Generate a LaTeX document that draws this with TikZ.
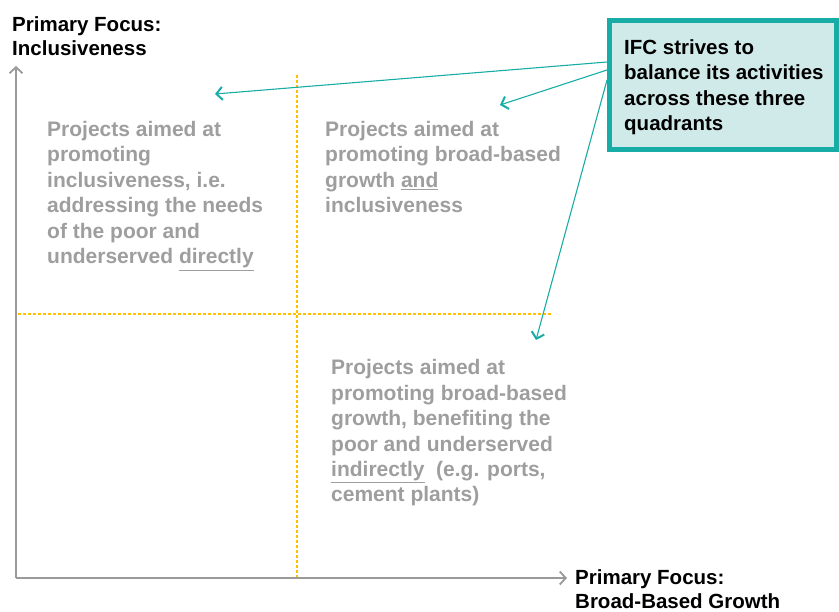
\documentclass[tikz,border=0pt]{standalone}
\usepackage{fontspec}
\setmainfont{Liberation Sans}
\usetikzlibrary{arrows.meta}
\definecolor{txtgray}{HTML}{9E9E9E}
\definecolor{axgray}{HTML}{9A9A9A}
\definecolor{teal1}{HTML}{17ADA6}
\definecolor{tealfill}{HTML}{D0EAE9}
\definecolor{orng}{HTML}{FFC000}
\tikzset{
  qtext/.style={anchor=base west, align=left, inner sep=0pt, text=txtgray, font=\fontsize{21}{25.5}\selectfont\bfseries},
  axlabel/.style={anchor=base west, align=left, inner sep=0pt, text=black, font=\fontsize{20.5}{24}\selectfont\bfseries},
  axis/.style={draw=axgray, line width=1.8pt, -{Straight Barb[length=6pt,width=13pt,line width=1.8pt]}},
  grid/.style={draw=orng, line width=1.2pt, dash pattern=on 3pt off 2pt},
  pointer/.style={draw=teal1, line width=1.1pt, -{Straight Barb[length=6pt,width=13pt,line width=2pt]}},
}
\begin{document}
\begin{tikzpicture}[x=1pt,y=-1pt]
\useasboundingbox (0,0) rectangle (839,612);
% axes
\coordinate (o) at (16,578);
\coordinate (ytip) at (16,66);
\coordinate (xtip) at (567,578);
\draw[grid] (297,75) -- (297,577);
\draw[grid] (18,314) -- (552,314);
\draw[axis] (o) -- (ytip);
\draw[axis] (o) -- (xtip);
% axis labels (anchored at the baseline of the last line)
\node[axlabel] (ylab) at (12,55.5) {Primary Focus:\\Inclusiveness};
\node[axlabel] (xlab) at (575,608) {Primary Focus:\\Broad-Based Growth};
% quadrant texts
\node[qtext] (q1) at (47,264) {Projects aimed at\\promoting\\inclusiveness, i.e.\\addressing the needs\\of the poor and\\underserved \underline{directly}};
\node[qtext] (q2) at (325,213) {Projects aimed at\\promoting broad-based\\growth \underline{and}\\inclusiveness};
\node[qtext] (q3) at (331,502) {Projects aimed at\\promoting broad-based\\growth, benefiting the\\poor and underserved\\\underline{indirectly}\ \ (e.g. ports,\\cement plants)};
% box
\draw[draw=teal1, fill=tealfill, line width=5pt] (609.5,20.5) rectangle (836.5,149.5);
\node[axlabel, font=\fontsize{20.5}{25.5}\selectfont\bfseries] (ifc) at (624,131) {IFC strives to\\balance its activities\\across these three\\quadrants};
\coordinate (s1) at (607,62);
\coordinate (s2) at (607,70);
\coordinate (s3) at (607,80);
\coordinate (t1) at (215,94);
\coordinate (t2) at (500,105);
\coordinate (t3) at (536,340);
\draw[pointer] (s1) -- (t1);
\draw[pointer] (s2) -- (t2);
\draw[pointer] (s3) -- (t3);
\end{tikzpicture}
\end{document}
